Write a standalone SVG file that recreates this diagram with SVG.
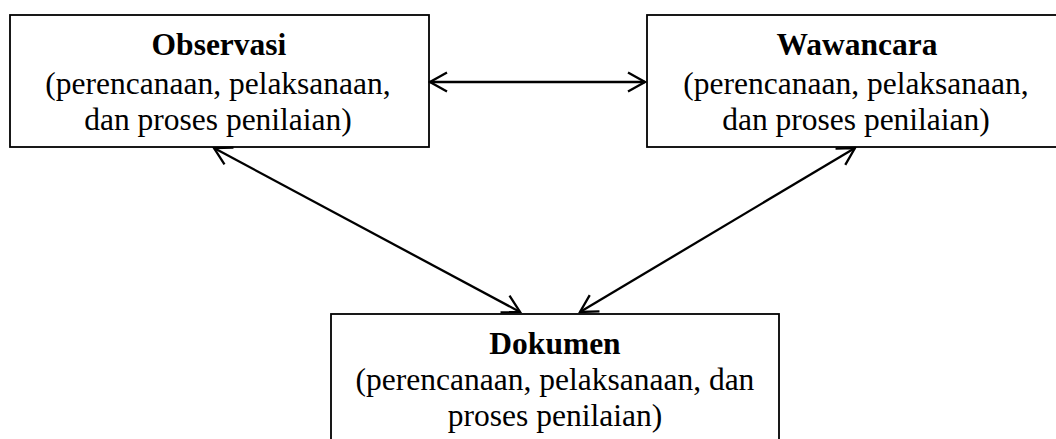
<svg xmlns="http://www.w3.org/2000/svg" width="1056" height="439" viewBox="0 0 1056 439">
<style>
.box{fill:#fff;stroke:#000;stroke-width:1.8}
.t{font-family:"Liberation Serif","Times New Roman",serif;font-size:31.5px;fill:#000;text-anchor:middle}
.b{font-weight:bold}
.con{stroke:#000;stroke-width:2.3;fill:none}
</style>
<defs>
<marker id="ah" markerUnits="userSpaceOnUse" viewBox="-22 -12 24 24" markerWidth="24" markerHeight="24" refX="0" refY="0" orient="auto-start-reverse">
<path d="M-17,-9.5 L0,0 L-17,9.5" fill="none" stroke="#000" stroke-width="2.3"/>
</marker>
</defs>
<rect width="1056" height="439" fill="#fff"/>
<g id="observasi">
<rect class="box" x="10" y="15" width="419" height="132"/>
<text class="t b" x="219" y="55">Observasi</text>
<text class="t" x="218" y="94">(perencanaan, pelaksanaan,</text>
<text class="t" x="218" y="130">dan proses penilaian)</text>
</g>
<g id="wawancara">
<rect class="box" x="647" y="15" width="420" height="132"/>
<text class="t b" x="857" y="55">Wawancara</text>
<text class="t" x="856" y="94">(perencanaan, pelaksanaan,</text>
<text class="t" x="856" y="130">dan proses penilaian)</text>
</g>
<g id="dokumen">
<rect class="box" x="331" y="314" width="448" height="140"/>
<text class="t b" x="555" y="354">Dokumen</text>
<text class="t" x="555" y="390">(perencanaan, pelaksanaan, dan</text>
<text class="t" x="555" y="426">proses penilaian)</text>
</g>
<g id="connectors">
<line class="con" x1="430" y1="82" x2="645" y2="82" marker-start="url(#ah)" marker-end="url(#ah)"/>
<line class="con" x1="214" y1="148" x2="520" y2="312" marker-start="url(#ah)" marker-end="url(#ah)"/>
<line class="con" x1="855" y1="148" x2="580" y2="312" marker-start="url(#ah)" marker-end="url(#ah)"/>
</g>
</svg>
